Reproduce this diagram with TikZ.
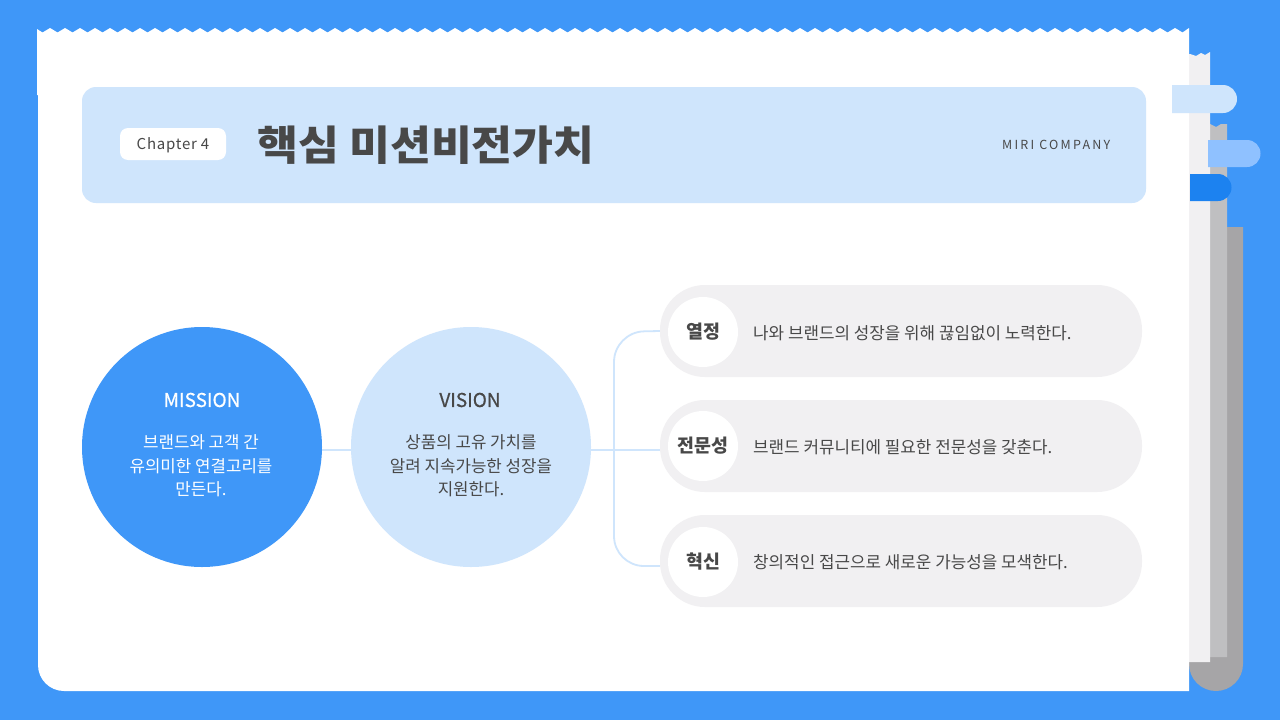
\documentclass[tikz,border=0pt]{standalone}
\usepackage{fontspec}
\setmainfont{Noto Sans CJK KR}
\newfontfamily\spacedfont[LetterSpace=18]{Noto Sans CJK KR}
\newfontfamily\chapterfont[LetterSpace=5]{Noto Sans CJK KR}
\newfontfamily\titlefont[FakeStretch=1.085]{Noto Sans CJK KR}
\newfontfamily\mediumfont[FakeBold=0.7]{Noto Sans CJK KR}
\usetikzlibrary{arrows,shapes,positioning}
\definecolor{pagebg}{HTML}{3F97F8}
\definecolor{palebg}{HTML}{CFE5FC}
\definecolor{midtab}{HTML}{8FC1FF}
\definecolor{deeptab}{HTML}{1C82F0}
\definecolor{pillbg}{HTML}{F1F0F2}
\definecolor{sheetb}{HTML}{BFBFC1}
\definecolor{sheetc}{HTML}{A6A5A7}
\definecolor{inkgray}{HTML}{484848}
\tikzset{
    basic/.style  = {inner sep=0pt, align=center, text=inkgray},
    big circle/.style = {basic, circle, minimum size=240pt},
    circle title/.style = {basic, font=\fontsize{19}{24}\selectfont\mediumfont},
    circle text/.style = {basic, font=\fontsize{16.8}{23.3}\selectfont},
    item pill/.style = {basic, rectangle, rounded corners=45pt, fill=pillbg, minimum width=482pt, minimum height=92pt},
    item badge/.style = {basic, circle, fill=white, minimum size=70pt, font=\fontsize{18.4}{20}\selectfont\bfseries},
    item text/.style = {basic, anchor=west, font=\fontsize{16.87}{20}\selectfont},
    link/.style = {draw=palebg, line width=1.8pt}
}
\begin{document}
\begin{tikzpicture}[x=1pt,y=-1pt]
	\fill[pagebg] (0,0) rectangle (1280,720);
	\useasboundingbox (0,0) rectangle (1280,720);
	% paper stack on the right
	\fill[sheetc] (1189,227) -- (1243,227) -- (1243,664) arc[start angle=0,end angle=180,radius=27] -- cycle;
	\fill[sheetb] (1190,124) -- (1197,124) -- (1203,120) -- (1210,124) -- (1216,127) -- (1221,124) -- (1227,124) -- (1227,657) -- (1190,657) -- cycle;
	\fill[pillbg] (1189,54) -- (1190,54) -- (1196,56) -- (1201,53) -- (1205,55) -- (1210,52) -- (1210,662) -- (1189,662) -- cycle;
	% front sheet
	\fill[white] (64,691) arc[start angle=90,end angle=180,radius=26] -- (38,95) -- (37,95) -- (37,29) -- (42.5,32.5)
		\foreach \i in {1,...,76} {-- ++(7.5,-4.5) -- ++(7.5,4.5)} -- (1189,28) -- (1189,691) -- cycle;
	% tabs
	\fill[palebg] (1172,85) -- (1223,85) arc[start angle=-90,end angle=90,radius=14] -- (1172,113) -- cycle;
	\fill[midtab] (1208,140) -- (1247,140) arc[start angle=-90,end angle=90,radius=13.5] -- (1208,167) -- cycle;
	\fill[deeptab] (1190,174) -- (1218,174) arc[start angle=-90,end angle=90,radius=13.5] -- (1190,201) -- cycle;
	% header
	\node[basic, fill=palebg, rounded corners=14pt, minimum width=1064pt, minimum height=116pt] (header) at (614,145) {};
	\node[basic, fill=white, rounded corners=8pt, minimum width=106pt, minimum height=32pt] (chapter) at (173,144) {};
	\node[basic, font=\fontsize{15}{18}\selectfont\chapterfont] (chaptertext) at (173,145.5) {Chapter 4};
	\node[basic, anchor=west, font=\fontsize{41}{46}\selectfont\titlefont\bfseries] (title) at (257,145) {핵심 미션비전가치};
	\node[basic, anchor=east, font=\fontsize{12.5}{16}\selectfont\spacedfont] (company) at (1110.5,145) {MIRI COMPANY};
	% circles
	\node[big circle, fill=pagebg] (mission) at (202,447) {};
	\node[big circle, fill=palebg] (vision) at (471,447) {};
	\node[circle title, text=white] (missiontitle) at (202,400) {MISSION};
	\node[circle title] (visiontitle) at (470,400) {VISION};
	\node[circle text, text=white] (missiontext) at (201,466) {브랜드와 고객 간\\유의미한 연결고리를\\만든다.};
	\node[circle text] (visiontext) at (471,466) {상품의 고유 가치를\\알려 지속가능한 성장을\\지원한다.};
	% items
	\node[item pill] (pillone) at (901,331) {};
	\node[item pill] (pilltwo) at (901,446) {};
	\node[item pill] (pillthree) at (901,561) {};
	\node[item badge] (badgeone) at (703,332) {열정};
	\node[item badge] (badgetwo) at (703,446) {전문성};
	\node[item badge] (badgethree) at (703,562) {혁신};
	\node[item text] (textone) at (753,333) {나와 브랜드의 성장을 위해 끊임없이 노력한다.};
	\node[item text] (texttwo) at (753,447) {브랜드 커뮤니티에 필요한 전문성을 갖춘다.};
	\node[item text] (textthree) at (753,562) {창의적인 접근으로 새로운 가능성을 모색한다.};
	% connectors
	\coordinate (bendtop) at (614,332);
	\coordinate (bendbottom) at (614,566);
	\draw[link] ([yshift=-3pt]mission.east) -- ([yshift=-3pt]vision.west);
	\draw[link] ([yshift=-3pt]vision.east) -- ([yshift=-4pt]pilltwo.west);
	\draw[link, rounded corners=30pt] (pillone.west) -- (bendtop) -- (bendbottom) -- ([yshift=-5pt]pillthree.west);
\end{tikzpicture}
\end{document}
